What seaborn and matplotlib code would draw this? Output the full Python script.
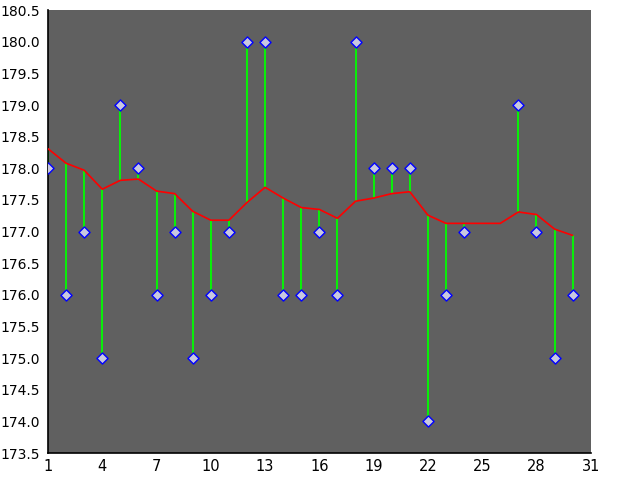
import matplotlib
matplotlib.use("Agg")
import matplotlib.pyplot as plt
import numpy as np
import pandas as pd
import seaborn as sns
from matplotlib.ticker import FormatStrFormatter, MultipleLocator

# day index
days = list(range(1, 31))
# observed values (days 25 and 26 missing)
values = [178, 176, 177, 175, 179, 178, 176, 177, 175, 176,
          177, 180, 180, 176, 176, 177, 176, 180, 178, 178,
          178, 174, 176, 177, np.nan, np.nan, 179, 177, 175, 176]
# smoothed trend (red line)
trend = [178.31, 178.08, 177.97, 177.67, 177.81, 177.83, 177.64, 177.60, 177.32, 177.18,
         177.18, 177.46, 177.70, 177.53, 177.38, 177.35, 177.21, 177.48, 177.53, 177.60,
         177.63, 177.26, 177.13, 177.13, 177.13, 177.13, 177.31, 177.27, 177.04, 176.94]
x_ticks = list(range(1, 32, 3))

df = pd.DataFrame({"day": days, "value": values, "trend": trend})
pts = df.dropna(subset=["value"])

sns.set_style("white")
plt.rcParams["font.family"] = ["DejaVu Sans"]

fig = plt.figure(figsize=(6.4, 4.8), dpi=100)
ax = fig.add_axes([0.075, 0.056, 0.848, 0.923])
ax.set_facecolor("#606060")

# green stems from trend to point
ax.vlines(pts["day"], pts["trend"], pts["value"], color="#00ff00", lw=1.3, zorder=2)

sns.lineplot(data=df, x="day", y="trend", color="#ff0000", lw=1.2, ax=ax, zorder=3)
sns.scatterplot(data=pts, x="day", y="value", marker="D", s=32,
                color="#c8c8e0", edgecolor="#0000ff", linewidth=1.0, ax=ax, zorder=4)

ax.set_xlim(1, 31)
ax.set_ylim(173.5, 180.5)
ax.set_xticks(x_ticks)
ax.xaxis.set_minor_locator(MultipleLocator(1))
ax.yaxis.set_major_locator(MultipleLocator(0.5))
ax.yaxis.set_major_formatter(FormatStrFormatter("%.1f"))
ax.tick_params(axis="x", which="both", direction="in", length=5, width=1,
               labelsize=10.5, colors="black", pad=4)
ax.tick_params(axis="y", which="major", direction="out", length=4, width=1,
               labelsize=10, colors="black", pad=1.5)
ax.set_xlabel("")
ax.set_ylabel("")
ax.grid(False)
for side in ["top", "right"]:
    ax.spines[side].set_visible(False)
for side in ["left", "bottom"]:
    ax.spines[side].set_color("black")
    ax.spines[side].set_linewidth(1.2)

fig.savefig("out.png", dpi=100, facecolor="white")
